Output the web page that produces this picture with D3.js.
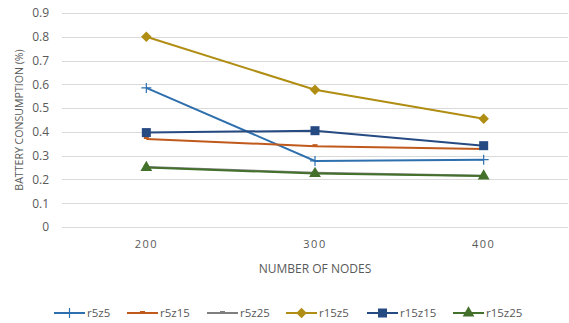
<!DOCTYPE html>
<html>
<head>
<meta charset="utf-8">
<script src="https://cdn.jsdelivr.net/npm/d3@7"></script>
<style>
  body { margin: 0; background: #fff; }
  text { font-family: "Open Sans", "Noto Sans", sans-serif; fill: #595959; }
</style>
</head>
<body>
<div id="chart"></div>
<script>
// chart values
var nodes = ["200", "300", "400"];
var seriesNames = ["r5z5", "r5z15", "r5z25", "r15z5", "r15z15", "r15z25"];
var r5z5 = [0.585, 0.278, 0.283];
var r5z15 = [0.37, 0.34, 0.328];
var r5z25 = [0.252, 0.228, 0.216];
var r15z5 = [0.80, 0.577, 0.455];
var r15z15 = [0.397, 0.405, 0.342];
var r15z25 = [0.25, 0.225, 0.214];
var yTicks = [0, 0.1, 0.2, 0.3, 0.4, 0.5, 0.6, 0.7, 0.8, 0.9];

var width = 569, height = 323;
var margin = {top: 13, right: 1, bottom: 96, left: 62};

var series = [
  {name: "r5z5", values: r5z5, color: "#2e6fad", marker: "plus"},
  {name: "r5z15", values: r5z15, color: "#c05a1c", marker: "dash"},
  {name: "r5z25", values: r5z25, color: "#7f7f7f", marker: "dash"},
  {name: "r15z5", values: r15z5, color: "#b08d13", marker: "diamond"},
  {name: "r15z15", values: r15z15, color: "#264a82", marker: "square"},
  {name: "r15z25", values: r15z25, color: "#43702b", marker: "triangle"}
];

var svg = d3.select("#chart").append("svg")
    .attr("width", width)
    .attr("height", height);

var x = d3.scaleBand()
    .domain(nodes)
    .range([margin.left, width - margin.right]);

var y = d3.scaleLinear()
    .domain([0, 0.9])
    .range([height - margin.bottom, margin.top]);

// grid lines
svg.append("g")
  .selectAll("line")
  .data(yTicks)
  .enter().append("line")
    .attr("x1", margin.left)
    .attr("x2", width - margin.right)
    .attr("y1", function(d) { return Math.round(y(d)) + 0.5; })
    .attr("y2", function(d) { return Math.round(y(d)) + 0.5; })
    .attr("stroke", "#d9d9d9")
    .attr("stroke-width", 1);

// y axis labels
var yAxis = d3.axisLeft(y).tickValues(yTicks).tickSize(0).tickPadding(13)
    .tickFormat(function(d) { return d === 0 ? "0" : d3.format(".1f")(d); });
var ya = svg.append("g")
    .attr("transform", "translate(" + margin.left + ",0)")
    .call(yAxis);
ya.select(".domain").remove();
ya.selectAll("text").style("font-size", "12px").attr("fill", "#595959");

// x axis labels
var xAxis = d3.axisBottom(x).tickSize(0).tickPadding(13);
var xa = svg.append("g")
    .attr("transform", "translate(0," + (height - margin.bottom) + ")")
    .call(xAxis);
xa.select(".domain").remove();
xa.selectAll("text").style("font-size", "11px").style("letter-spacing", "1.5px").attr("fill", "#595959");

// axis titles
svg.append("text")
    .attr("x", margin.left + (width - margin.right - margin.left) / 2)
    .attr("y", 273)
    .attr("text-anchor", "middle")
    .style("font-size", "12px")
    .text("NUMBER OF NODES");

svg.append("text")
    .attr("transform", "translate(23,120) rotate(-90)")
    .attr("text-anchor", "middle")
    .style("font-size", "10.6px")
    .text("BATTERY CONSUMPTION (%)");

var cx = function(i) { return x(nodes[i]) + x.bandwidth() / 2; };

var line = d3.line()
    .x(function(d, i) { return cx(i); })
    .y(function(d) { return y(d); });

function drawMarker(g, type, color) {
  if (type === "plus") {
    g.append("path").attr("d", "M-5,0H5M0,-5V5")
      .attr("stroke", color).attr("stroke-width", 1.2).attr("fill", "none");
  } else if (type === "dash") {
    g.append("rect").attr("x", -2.5).attr("y", -2).attr("width", 5).attr("height", 2)
      .attr("fill", color);
  } else if (type === "diamond") {
    g.append("path").attr("d", d3.symbol().type(d3.symbolDiamond2).size(70))
      .attr("fill", color);
  } else if (type === "square") {
    g.append("rect").attr("x", -4.5).attr("y", -4.5).attr("width", 9).attr("height", 9)
      .attr("fill", color);
  } else if (type === "triangle") {
    g.append("path").attr("d", d3.symbol().type(d3.symbolTriangle).size(60))
      .attr("fill", color);
  }
}

// series lines (r5z25 drawn before r15z25 so green is on top)
series.forEach(function(s) {
  svg.append("path")
    .datum(s.values)
    .attr("fill", "none")
    .attr("stroke", s.color)
    .attr("stroke-width", 2)
    .attr("d", line);
  s.values.forEach(function(v, i) {
    var g = svg.append("g").attr("transform", "translate(" + cx(i) + "," + y(v) + ")");
    drawMarker(g, s.marker, s.color);
  });
});

// legend
var legendX = [54, 127, 207, 286, 367, 453];
var legend = svg.append("g").attr("transform", "translate(0,313)");
series.forEach(function(s, i) {
  var g = legend.append("g").attr("transform", "translate(" + legendX[i] + ",0)");
  g.append("line").attr("x1", 0).attr("x2", 31).attr("y1", 0).attr("y2", 0)
    .attr("stroke", s.color).attr("stroke-width", 2);
  var m = g.append("g").attr("transform", "translate(15.5,0)");
  drawMarker(m, s.marker, s.color);
  g.append("text").attr("x", 33).attr("y", 4)
    .style("font-size", "11.5px")
    .text(s.name);
});
</script>
</body>
</html>
